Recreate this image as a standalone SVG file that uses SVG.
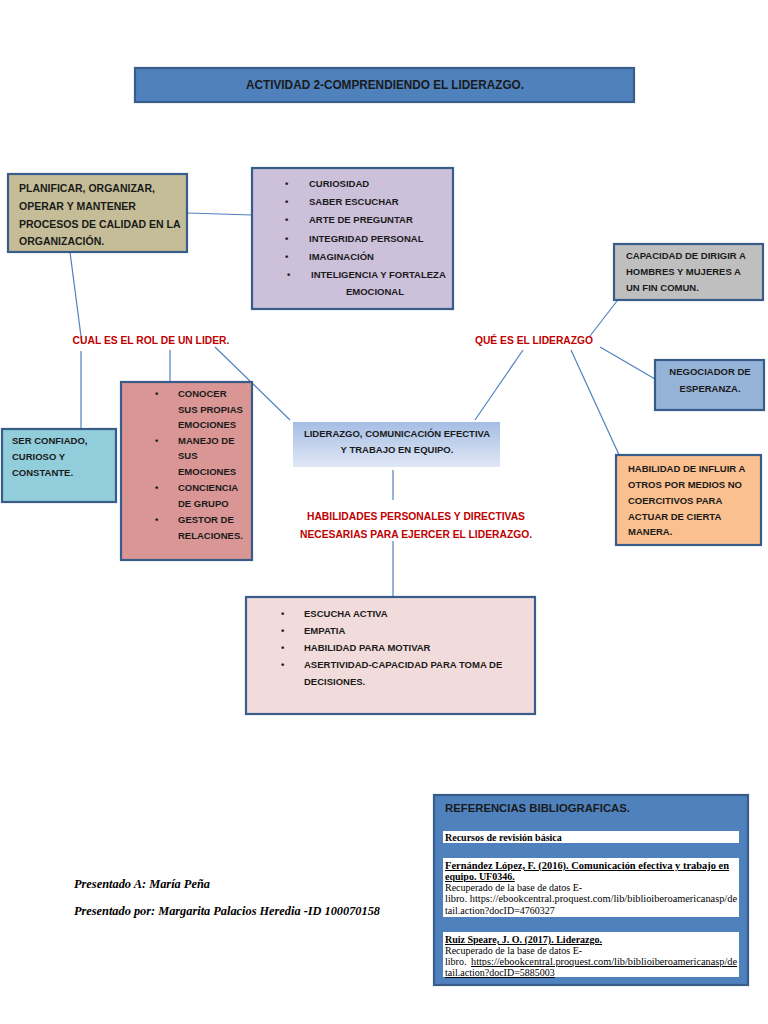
<svg xmlns="http://www.w3.org/2000/svg" width="768" height="1024" viewBox="0 0 768 1024">
<style>
.box{stroke:#385d8a;stroke-width:2.2}
.t{font-family:"Liberation Sans",Arial,sans-serif;font-weight:bold;font-size:9.5px;fill:#1a1a1a}
.big{font-size:10.5px}
.r{font-family:"Liberation Sans",Arial,sans-serif;font-weight:bold;font-size:10.3px;fill:#c00000}
.c{stroke:#4f81bd;stroke-width:1.2;fill:none}
.s{font-family:"Liberation Serif","Times New Roman",serif;font-size:10px;fill:#000}
.sb{font-family:"Liberation Serif","Times New Roman",serif;font-size:10px;font-weight:bold;fill:#000}
.p{font-family:"Liberation Serif","Times New Roman",serif;font-style:italic;font-weight:bold;font-size:13px;fill:#000}
</style>
<defs>
<linearGradient id="g1" x1="0" y1="0" x2="0" y2="1">
<stop offset="0" stop-color="#a5bde4"/>
<stop offset="1" stop-color="#e0e8f6"/>
</linearGradient>
</defs>
<rect width="768" height="1024" fill="#fff"/>

<g id="connectors">
<line class="c" x1="187" y1="213" x2="252" y2="215"/>
<line class="c" x1="70" y1="252" x2="82" y2="344"/>
<line class="c" x1="81" y1="351" x2="81" y2="429"/>
<line class="c" x1="170" y1="350" x2="170" y2="382"/>
<line class="c" x1="215" y1="347" x2="290" y2="420"/>
<line class="c" x1="523" y1="350" x2="475" y2="420"/>
<line class="c" x1="590" y1="336" x2="617" y2="301"/>
<line class="c" x1="600" y1="347" x2="655" y2="379"/>
<line class="c" x1="571" y1="350" x2="620" y2="457"/>
<line class="c" x1="393" y1="470" x2="393" y2="500"/>
<line class="c" x1="393" y1="541" x2="393" y2="597"/>
</g>

<g id="title">
<rect class="box" x="135" y="68" width="499" height="34" fill="#4f81bd"/>
<text class="t" x="385" y="89" text-anchor="middle" style="font-size:12.5px" textLength="278" lengthAdjust="spacingAndGlyphs">ACTIVIDAD 2-COMPRENDIENDO EL LIDERAZGO.</text>
</g>

<g id="planificar">
<rect class="box" x="8" y="174" width="179" height="78" fill="#c4bd97"/>
<text class="t big" x="19" y="192">PLANIFICAR, ORGANIZAR,</text>
<text class="t big" x="19" y="210">OPERAR Y MANTENER</text>
<text class="t big" x="19" y="228">PROCESOS DE CALIDAD EN LA</text>
<text class="t big" x="19" y="245">ORGANIZACIÓN.</text>
</g>

<g id="cualidades">
<rect class="box" x="252" y="168" width="201" height="141" fill="#ccc0da"/>
<g class="t">
<text x="285" y="187">•</text><text x="309" y="187">CURIOSIDAD</text>
<text x="285" y="205">•</text><text x="309" y="205">SABER ESCUCHAR</text>
<text x="285" y="223">•</text><text x="309" y="223">ARTE DE PREGUNTAR</text>
<text x="285" y="242">•</text><text x="309" y="242">INTEGRIDAD PERSONAL</text>
<text x="285" y="260">•</text><text x="309" y="260">IMAGINACIÓN</text>
<text x="287" y="278">•</text><text x="311" y="278">INTELIGENCIA Y FORTALEZA</text>
<text x="375" y="295" text-anchor="middle">EMOCIONAL</text>
</g>
</g>

<g id="cual-es-rol">
<text class="r" x="151" y="344" text-anchor="middle">CUAL ES EL ROL DE UN LIDER.</text>
</g>

<g id="ser-confiado">
<rect class="box" x="2" y="429" width="114" height="73" fill="#92cddc"/>
<text class="t" x="12" y="444">SER CONFIADO,</text>
<text class="t" x="12" y="460">CURIOSO Y</text>
<text class="t" x="12" y="476">CONSTANTE.</text>
</g>

<g id="emociones">
<rect class="box" x="121" y="382" width="131" height="178" fill="#d99694"/>
<g class="t">
<text x="155" y="397">•</text><text x="178" y="397">CONOCER</text>
<text x="178" y="413">SUS PROPIAS</text>
<text x="178" y="428">EMOCIONES</text>
<text x="155" y="444">•</text><text x="178" y="444">MANEJO DE</text>
<text x="178" y="459">SUS</text>
<text x="178" y="475">EMOCIONES</text>
<text x="155" y="491">•</text><text x="178" y="491">CONCIENCIA</text>
<text x="178" y="507">DE GRUPO</text>
<text x="155" y="523">•</text><text x="178" y="523">GESTOR DE</text>
<text x="178" y="539">RELACIONES.</text>
</g>
</g>

<g id="central">
<rect x="293" y="422" width="207" height="45" fill="url(#g1)"/>
<text class="t" x="397" y="437" text-anchor="middle">LIDERAZGO, COMUNICACIÓN EFECTIVA</text>
<text class="t" x="397" y="453" text-anchor="middle">Y TRABAJO  EN EQUIPO.</text>
</g>

<g id="habilidades-label">
<text class="r" x="416" y="520" text-anchor="middle">HABILIDADES PERSONALES Y DIRECTIVAS</text>
<text class="r" x="416" y="538" text-anchor="middle">NECESARIAS PARA EJERCER EL LIDERAZGO.</text>
</g>

<g id="habilidades">
<rect class="box" x="246" y="597" width="289" height="117" fill="#f2dcdb"/>
<g class="t">
<text x="281" y="617">•</text><text x="304" y="617">ESCUCHA ACTIVA</text>
<text x="281" y="634">•</text><text x="304" y="634">EMPATIA</text>
<text x="281" y="651">•</text><text x="304" y="651">HABILIDAD PARA MOTIVAR</text>
<text x="281" y="668">•</text><text x="304" y="668">ASERTIVIDAD-CAPACIDAD PARA TOMA DE</text>
<text x="304" y="685">DECISIONES.</text>
</g>
</g>

<g id="que-es">
<text class="r" x="534" y="344" text-anchor="middle">QUÉ ES EL LIDERAZGO</text>
</g>

<g id="capacidad">
<rect class="box" x="614" y="244" width="149" height="56" fill="#bfbfbf"/>
<text class="t" x="626" y="259">CAPACIDAD DE DIRIGIR A</text>
<text class="t" x="626" y="275">HOMBRES Y MUJERES A</text>
<text class="t" x="626" y="291">UN FIN COMUN.</text>
</g>

<g id="negociador">
<rect class="box" x="655" y="360" width="109" height="50" fill="#95b3d7"/>
<text class="t" x="710" y="375" text-anchor="middle">NEGOCIADOR DE</text>
<text class="t" x="710" y="392" text-anchor="middle">ESPERANZA.</text>
</g>

<g id="influir">
<rect class="box" x="616" y="455" width="145" height="90" fill="#fac090"/>
<text class="t" x="628" y="472">HABILIDAD DE INFLUIR A</text>
<text class="t" x="628" y="488">OTROS POR MEDIOS NO</text>
<text class="t" x="628" y="504">COERCITIVOS PARA</text>
<text class="t" x="628" y="520">ACTUAR DE CIERTA</text>
<text class="t" x="628" y="535">MANERA.</text>
</g>

<g id="presentado">
<text class="p" x="74" y="888" textLength="136" lengthAdjust="spacingAndGlyphs">Presentado A: María Peña</text>
<text class="p" x="74" y="915" textLength="306" lengthAdjust="spacingAndGlyphs">Presentado por: Margarita Palacios Heredia -ID 100070158</text>
</g>

<g id="referencias">
<rect class="box" x="434" y="795" width="314" height="190" fill="#4f81bd"/>
<text class="t" x="445" y="812" style="font-size:11.5px" textLength="185" lengthAdjust="spacingAndGlyphs">REFERENCIAS BIBLIOGRAFICAS.</text>
<rect x="443" y="831" width="296" height="12" fill="#fff"/>
<text class="sb" x="445" y="841">Recursos de revisión básica</text>
<rect x="443" y="858" width="296" height="59" fill="#fff"/>
<text class="sb" x="445" y="869" text-decoration="underline" textLength="284" lengthAdjust="spacingAndGlyphs">Fernández López, F. (2016). Comunicación efectiva y trabajo en</text>
<text class="sb" x="445" y="880" text-decoration="underline">equipo. UF0346.</text>
<text class="s" x="445" y="891">Recuperado de la base de datos E-</text>
<text class="s" x="445" y="902" textLength="292" lengthAdjust="spacingAndGlyphs">libro. https://ebookcentral.proquest.com/lib/biblioiberoamericanasp/de</text>
<text class="s" x="445" y="914">tail.action?docID=4760327</text>
<rect x="443" y="932" width="296" height="45" fill="#fff"/>
<text class="sb" x="445" y="943" text-decoration="underline">Ruiz Speare, J. O. (2017). Liderazgo.</text>
<text class="s" x="445" y="954">Recuperado de la base de datos E-</text>
<text class="s" x="445" y="965">libro. </text>
<text class="s" x="471" y="965" text-decoration="underline" textLength="266" lengthAdjust="spacingAndGlyphs">https://ebookcentral.proquest.com/lib/biblioiberoamericanasp/de</text>
<text class="s" x="445" y="976" text-decoration="underline">tail.action?docID=5885003</text>
</g>
</svg>
